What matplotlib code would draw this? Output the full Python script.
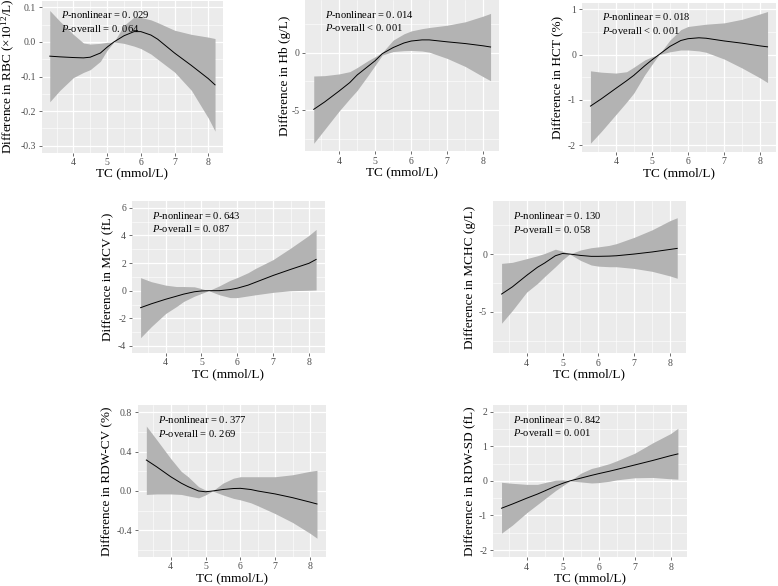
import matplotlib
matplotlib.use("Agg")
import matplotlib.pyplot as plt

# ======================
# DATA
# ======================

tc = [3.3, 3.6, 4.0, 4.3, 4.5, 4.8, 5.0, 5.2, 5.5, 5.8, 6.0, 6.3, 6.5, 7.0, 7.5, 8.0, 8.2]

rbc_fit = [-0.041, -0.043, -0.045, -0.046, -0.044, -0.032, -0.015, 0.0, 0.018, 0.030, 0.030, 0.020, 0.008, -0.032, -0.068, -0.106, -0.124]
rbc_low = [-0.173, -0.140, -0.103, -0.088, -0.080, -0.056, -0.024, 0.0, -0.004, -0.012, -0.019, -0.035, -0.050, -0.087, -0.140, -0.220, -0.258]
rbc_up = [0.091, 0.060, 0.022, -0.003, -0.006, -0.004, -0.001, 0.0, 0.048, 0.072, 0.071, 0.064, 0.056, 0.034, 0.022, 0.014, 0.010]

hb_fit = [-4.94, -4.30, -3.35, -2.60, -1.95, -1.20, -0.70, -0.08, 0.45, 0.85, 1.02, 1.12, 1.12, 0.95, 0.80, 0.60, 0.50]
hb_low = [-7.90, -6.70, -5.10, -4.00, -3.30, -2.00, -1.10, -0.20, 0.10, 0.18, 0.20, 0.15, 0.05, -0.50, -1.20, -2.10, -2.44]
hb_up = [-2.03, -2.00, -1.85, -1.65, -1.30, -0.70, -0.35, 0.02, 1.10, 1.65, 1.90, 2.10, 2.20, 2.40, 2.70, 3.20, 3.43]

hct_fit = [-1.14, -0.98, -0.75, -0.58, -0.46, -0.25, -0.12, 0.0, 0.18, 0.31, 0.35, 0.37, 0.36, 0.30, 0.25, 0.19, 0.17]
hct_low = [-1.96, -1.70, -1.33, -1.05, -0.85, -0.45, -0.22, 0.0, 0.06, 0.10, 0.10, 0.08, 0.05, -0.10, -0.30, -0.52, -0.62]
hct_up = [-0.36, -0.39, -0.41, -0.38, -0.28, -0.12, -0.05, 0.0, 0.32, 0.55, 0.62, 0.65, 0.67, 0.70, 0.78, 0.90, 0.95]

mcv_fit = [-1.23, -0.95, -0.62, -0.40, -0.25, -0.08, -0.02, 0.0, 0.0, 0.08, 0.18, 0.40, 0.60, 1.10, 1.55, 1.98, 2.26]
mcv_low = [-3.40, -2.60, -1.65, -1.15, -0.78, -0.40, -0.20, 0.0, -0.30, -0.50, -0.50, -0.38, -0.30, -0.12, 0.0, 0.03, 0.05]
mcv_up = [0.94, 0.65, 0.40, 0.30, 0.30, 0.28, 0.15, 0.0, 0.35, 0.75, 0.95, 1.30, 1.60, 2.25, 3.10, 4.00, 4.43]

mchc_fit = [-3.47, -2.85, -1.85, -1.15, -0.78, -0.15, 0.05, 0.0, -0.12, -0.20, -0.20, -0.18, -0.15, 0.0, 0.18, 0.40, 0.49]
mchc_low = [-6.00, -4.90, -3.30, -2.55, -1.95, -1.10, -0.50, 0.0, -0.55, -0.95, -1.05, -1.10, -1.10, -1.25, -1.50, -1.90, -2.10]
mchc_up = [-0.81, -0.72, -0.40, -0.15, 0.05, 0.42, 0.25, 0.0, 0.35, 0.55, 0.62, 0.75, 0.90, 1.45, 2.10, 2.90, 3.15]

rdwcv_fit = [0.315, 0.245, 0.145, 0.080, 0.044, 0.0, -0.008, 0.0, 0.015, 0.025, 0.027, 0.015, 0.0, -0.030, -0.068, -0.113, -0.132]
rdwcv_low = [-0.035, -0.030, -0.030, -0.035, -0.050, -0.070, -0.040, 0.0, -0.040, -0.075, -0.090, -0.120, -0.150, -0.230, -0.320, -0.430, -0.480]
rdwcv_up = [0.660, 0.520, 0.330, 0.200, 0.145, 0.044, 0.010, 0.0, 0.080, 0.130, 0.145, 0.145, 0.145, 0.145, 0.165, 0.200, 0.210]

rdwsd_fit = [-0.79, -0.67, -0.50, -0.38, -0.29, -0.15, -0.07, 0.0, 0.08, 0.16, 0.21, 0.28, 0.33, 0.46, 0.59, 0.73, 0.78]
rdwsd_low = [-1.51, -1.28, -0.92, -0.68, -0.52, -0.28, -0.14, 0.0, -0.03, -0.06, -0.05, -0.01, 0.03, 0.09, 0.10, 0.06, 0.05]
rdwsd_up = [-0.04, -0.07, -0.10, -0.10, -0.05, 0.02, 0.03, 0.0, 0.22, 0.36, 0.41, 0.50, 0.58, 0.80, 1.10, 1.37, 1.52]

ylabels = [
    "Difference in RBC (\u00d710$^{12}$/L)",
    "Difference in Hb (g/L)",
    "Difference in HCT (%)",
    "Difference in MCV (fL)",
    "Difference in MCHC (g/L)",
    "Difference in RDW-CV (%)",
    "Difference in RDW-SD (fL)",
]
p_nonlinear = ["= 0. 029", "= 0. 014", "= 0. 018", "= 0. 643", "= 0. 130", "= 0. 377", "= 0. 842"]
p_overall = ["= 0. 064", "< 0. 001", "< 0. 001", "= 0. 087", "= 0. 058", "= 0. 269", "= 0. 001"]

yticks = [
    [-0.3, -0.2, -0.1, 0.0, 0.1],
    [-5, 0],
    [-2, -1, 0, 1],
    [-4, -2, 0, 2, 4, 6],
    [-5, 0],
    [-0.4, 0.0, 0.4, 0.8],
    [-2, -1, 0, 1, 2],
]
ytick_labels = [
    ["-0.3", "-0.2", "-0.1", "0.0", "0.1"],
    ["-5", "0"],
    ["-2", "-1", "0", "1"],
    ["-4", "-2", "0", "2", "4", "6"],
    ["-5", "0"],
    ["-0.4", "0.0", "0.4", "0.8"],
    ["-2", "-1", "0", "1", "2"],
]
xticks = [4, 5, 6, 7, 8]

fits = [rbc_fit, hb_fit, hct_fit, mcv_fit, mchc_fit, rdwcv_fit, rdwsd_fit]
lows = [rbc_low, hb_low, hct_low, mcv_low, mchc_low, rdwcv_low, rdwsd_low]
ups = [rbc_up, hb_up, hct_up, mcv_up, mchc_up, rdwcv_up, rdwsd_up]

# ======================
# LAYOUT (pixel boxes: left, top, right, bottom) and axis limits
# ======================
W, H = 778, 586
boxes = [
    (41.5, 0.5, 223.3, 152.6),
    (304.9, 0.0, 499.4, 151.3),
    (581.6, 2.5, 776.4, 151.8),
    (131.8, 200.8, 324.9, 352.9),
    (492.8, 201.0, 686.0, 353.2),
    (137.8, 405.4, 325.5, 556.9),
    (492.7, 404.8, 686.7, 557.0),
]
ylims = [(-0.32, 0.12), (-8.6, 4.6), (-2.15, 1.15), (-4.5, 6.5), (-8.6, 4.6), (-0.67, 0.87), (-2.2, 2.2)]
ylabel_offset = [-33.5, -20.0, -23.6, -23.5, -22.8, -30.5, -22.7]  # px from axes left

plt.rcParams["font.family"] = ["Liberation Serif", "DejaVu Serif"]
plt.rcParams["mathtext.fontset"] = "custom"
plt.rcParams["mathtext.rm"] = "Liberation Serif"
plt.rcParams["mathtext.it"] = "Liberation Serif:italic"
plt.rcParams["axes.unicode_minus"] = False

fig = plt.figure(figsize=(W / 100, H / 100), dpi=100)

for i in range(7):
    l, t, r, b = boxes[i]
    ax = fig.add_axes([l / W, 1 - b / H, (r - l) / W, (b - t) / H])
    ax.set_facecolor("#EBEBEB")
    for s in ax.spines.values():
        s.set_visible(False)

    ax.fill_between(tc, lows[i], ups[i], color="#B3B3B3", lw=0, zorder=2)
    ax.plot(tc, fits[i], color="black", lw=0.7, zorder=3)

    ax.set_xlim(3.055, 8.445)
    ax.set_xticks(xticks)
    ax.set_xticklabels([str(v) for v in xticks])
    ax.set_xticks([3.5, 4.5, 5.5, 6.5, 7.5], minor=True)
    yt = yticks[i]
    step = yt[1] - yt[0]
    ax.set_yticks(yt)
    ax.set_yticklabels(ytick_labels[i])
    ax.set_yticks([v + step / 2 for v in [yt[0] - step] + yt], minor=True)
    ax.set_ylim(*ylims[i])

    ax.grid(which="major", color="white", lw=0.9, zorder=0)
    ax.grid(which="minor", color="white", lw=0.4, zorder=0)
    ax.set_axisbelow(True)
    ax.tick_params(which="major", length=2.5, width=0.5, color="#333333",
                   labelsize=7, labelcolor="#4D4D4D", pad=1.5)
    ax.tick_params(which="minor", length=0)

    ax.set_xlabel("TC (mmol/L)", fontsize=9.5)
    ax.xaxis.label.set_va("center")
    ax.xaxis.set_label_coords(0.5, -21.0 / (b - t))
    ax.set_ylabel(ylabels[i], fontsize=9.5)
    ax.yaxis.label.set_va("center")
    ax.yaxis.set_label_coords(ylabel_offset[i] / (r - l), 0.5)

    ax.text(0.105, 0.905, "$P$-nonlinear " + p_nonlinear[i], transform=ax.transAxes,
            fontsize=7.6, va="center", ha="left", zorder=4)
    ax.text(0.105, 0.815, "$P$-overall " + p_overall[i], transform=ax.transAxes,
            fontsize=7.6, va="center", ha="left", zorder=4)

plt.savefig("out.png", dpi=100)
plt.close()
